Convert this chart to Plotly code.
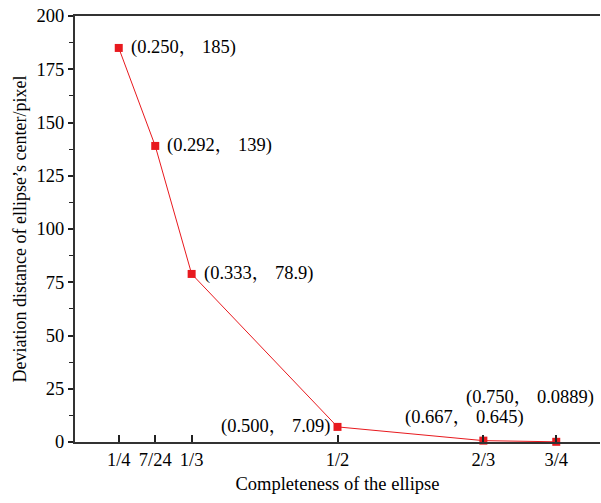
import plotly.graph_objects as go

x_vals = [0.25, 0.2917, 0.3333, 0.5, 0.6667, 0.75]
y_vals = [185, 139, 78.9, 7.09, 0.645, 0.0889]
labels = ["(0.250， 185)", "(0.292， 139)", "(0.333， 78.9)", "(0.500， 7.09)", "(0.667， 0.645)", "(0.750， 0.0889)"]
tick_vals = [0.25, 7/24, 1/3, 0.5, 2/3, 0.75]
tick_text = ["1/4", "7/24", "1/3", "1/2", "2/3", "3/4"]

red = "#e8191e"
font = "Liberation Serif, Noto Serif CJK SC, Noto Sans CJK SC"
fs = 18.5

fig = go.Figure()
fig.add_trace(go.Scatter(
    x=x_vals, y=y_vals, mode="lines+markers",
    line=dict(color=red, width=1),
    marker=dict(symbol="square", size=8, color=red),
    cliponaxis=False, showlegend=False,
))

# label placement (anchor, xshift, yshift)
place = [("left", 10, 0), ("left", 10, 0), ("left", 10, 0),
         ("right", -6, 0), ("center", -19, 23), ("center", -26, 44)]
for xv, yv, t, (anc, xs, ys) in zip(x_vals, y_vals, labels, place):
    fig.add_annotation(x=xv, y=yv, text=t, showarrow=False, xanchor=anc,
                       yanchor="middle", xshift=xs, yshift=ys,
                       font=dict(family=font, size=fs, color="black"))

fig.update_layout(
    width=601, height=503,
    margin=dict(l=75, r=1, t=16, b=61),
    plot_bgcolor="white", paper_bgcolor="white",
    font=dict(family=font, size=fs, color="black"),
)
fig.update_xaxes(
    range=[0.2, 0.8], tickvals=tick_vals, ticktext=tick_text,
    ticks="inside", ticklen=7, tickwidth=1.5, tickcolor="#222",
    showline=True, linecolor="#333", linewidth=2, mirror=True,
    showgrid=False, zeroline=False,
    title=dict(text="Completeness of the ellipse", font=dict(family=font, size=fs), standoff=8),
    tickfont=dict(family=font, size=fs),
)
fig.update_yaxes(
    range=[0, 200], dtick=25, tick0=0,
    ticks="outside", ticklen=5, tickwidth=1.5, tickcolor="#222",
    minor=dict(dtick=12.5, tick0=0, ticks="outside", ticklen=4, tickcolor="#222", tickwidth=1.2),
    showline=True, linecolor="#333", linewidth=2,
    showgrid=False, zeroline=False,
    title=dict(text="Deviation distance of ellipse’s center/pixel", font=dict(family=font, size=18), standoff=5),
    tickfont=dict(family=font, size=fs),
)

fig.write_html("out.html")
